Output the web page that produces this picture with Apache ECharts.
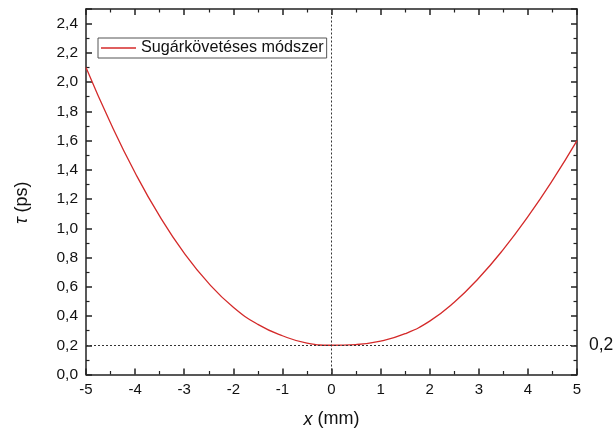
<!DOCTYPE html>
<html>
<head>
<meta charset="utf-8">
<script src="https://cdn.jsdelivr.net/npm/echarts@6/dist/echarts.min.js"></script>
<style>
  html, body { margin: 0; padding: 0; background: #fff; }
  #chart { width: 616px; height: 430px; }
</style>
</head>
<body>
<div id="chart"></div>
<script>
// Position across the beam (mm) and the computed delay tau (ps)
const xValues = [-5, -4.5, -4, -3.5, -3, -2.5, -2, -1.5, -1, -0.5, 0, 0.5, 1, 1.5, 2, 2.5, 3, 3.5, 4, 4.5, 5];
const tauValues = [2.10, 1.72, 1.38, 1.083, 0.83, 0.623, 0.46, 0.343, 0.265, 0.215, 0.200, 0.205, 0.228, 0.279, 0.365, 0.494, 0.66, 0.856, 1.08, 1.328, 1.60];
const seriesName = 'Sugárkövetéses módszer';
const refX = 0;     // vertical guide
const refTau = 0.2; // horizontal guide, also labelled on the right axis

const FONT = 'Liberation Sans, Arial, sans-serif';
const AXIS_COLOR = '#222';
const CURVE_COLOR = '#d42a2a';

const fmt = v => v.toFixed(1).replace('.', ',');

const commonAxis = {
  axisLine: { show: true, onZero: false, lineStyle: { color: AXIS_COLOR, width: 1.5 } },
  axisTick: { show: true, inside: true, length: 6, lineStyle: { color: AXIS_COLOR, width: 1.5 } },
  minorTick: { show: true, splitNumber: 2, length: 3.5, lineStyle: { color: AXIS_COLOR, width: 1.2 } },
  splitLine: { show: false },
  minorSplitLine: { show: false }
};

const chart = echarts.init(document.getElementById('chart'), null, { renderer: 'canvas' });

chart.setOption({
  animation: false,
  backgroundColor: '#fff',
  textStyle: { fontFamily: FONT },
  grid: { left: 86, right: 39, top: 9, bottom: 55.5, containLabel: false, outerBoundsMode: 'none' },
  legend: {
    left: 98,
    top: 38,
    orient: 'horizontal',
    data: [{ name: seriesName, icon: 'rect' }],
    itemWidth: 35,
    itemHeight: 1.5,
    itemGap: 5,
    padding: [2, 3, 2, 3],
    borderColor: '#555',
    borderWidth: 1,
    backgroundColor: '#fff',
    itemStyle: { color: CURVE_COLOR },
    textStyle: { fontFamily: FONT, fontSize: 16.2, color: '#111', lineHeight: 15 }
  },
  xAxis: [
    Object.assign({}, commonAxis, {
      type: 'value',
      min: -5, max: 5, interval: 1,
      position: 'bottom',
      name: '{i|x} (mm)',
      nameLocation: 'middle',
      nameGap: 36,
      nameTextStyle: {
        fontFamily: FONT, fontSize: 18, color: '#111',
        rich: { i: { fontFamily: FONT, fontSize: 18, fontStyle: 'italic', color: '#111' } }
      },
      axisLabel: { fontFamily: FONT, fontSize: 15, color: '#111', margin: 8 }
    }),
    Object.assign({}, commonAxis, {
      type: 'value',
      min: -5, max: 5, interval: 1,
      position: 'top',
      axisLabel: { show: false }
    })
  ],
  yAxis: [
    Object.assign({}, commonAxis, {
      type: 'value',
      min: 0, max: 2.5, interval: 0.2,
      position: 'left',
      name: '{i|τ} (ps)',
      nameLocation: 'middle',
      nameGap: 55,
      nameRotate: 90,
      nameTextStyle: {
        fontFamily: FONT, fontSize: 18, color: '#111',
        padding: [0, 22, 0, 0],
        rich: { i: { fontFamily: FONT, fontSize: 18, fontStyle: 'italic', color: '#111' } }
      },
      axisLabel: {
        fontFamily: FONT, fontSize: 15.5, color: '#111', margin: 8,
        formatter: v => (v > 2.45 ? '' : fmt(v))
      }
    }),
    Object.assign({}, commonAxis, {
      type: 'value',
      min: 0, max: 2.5, interval: 0.2,
      position: 'right',
      axisLabel: {
        fontFamily: FONT, fontSize: 17.5, color: '#111', margin: 12,
        formatter: v => (Math.abs(v - refTau) < 1e-9 ? fmt(v) : '')
      }
    })
  ],
  series: [
    {
      name: seriesName,
      type: 'line',
      xAxisIndex: 0,
      yAxisIndex: 0,
      data: xValues.map((x, i) => [x, tauValues[i]]),
      smooth: true,
      showSymbol: false,
      symbol: 'none',
      lineStyle: { color: CURVE_COLOR, width: 1.3 },
      itemStyle: { color: CURVE_COLOR },
      markLine: {
        silent: true,
        symbol: 'none',
        label: { show: false },
        lineStyle: { color: '#333', type: [2, 2], width: 1 },
        data: [{ xAxis: refX }, { yAxis: refTau }]
      }
    }
  ]
});
</script>
</body>
</html>
